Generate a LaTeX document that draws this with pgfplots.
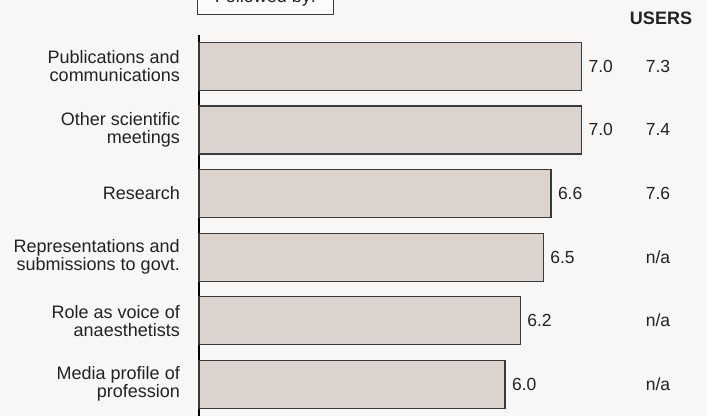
\documentclass[border=0pt]{standalone}
\usepackage{pgfplots}
\usepackage{pgfplotstable}
\pgfplotsset{compat=1.18}
\usepackage{fontspec}
\setmainfont{Liberation Sans}

\definecolor{bg}{HTML}{F8F7F5}
\definecolor{barfill}{HTML}{DAD3CE}
\definecolor{barline}{HTML}{3A3A3A}
\definecolor{ink}{HTML}{222222}

% Mean ratings: members (bars) and users (right-hand column)
\pgfplotstableread{
idx members users
0   7.0     7.3
1   7.0     7.4
2   6.6     7.6
3   6.5     n/a
4   6.2     n/a
5   6.0     n/a
}\ratings

\begin{document}
\begin{tikzpicture}[x=1pt,y=1pt]
\useasboundingbox (0,0) rectangle (707,416);
\fill[bg] (0,0) rectangle (707,416);
\begin{scope}
\clip (0,0) rectangle (707,416);

% header box, partly above the visible area
\draw[barline, line width=1pt, fill=white!60!bg] (197.5,401) rectangle (333.5,445);
\node[anchor=base, text=ink, font=\fontsize{18}{18}\selectfont] at (265.3,413.3) {Followed by:};

% column header
\node[anchor=base, text=ink, font=\bfseries\fontsize{18}{18}\selectfont] at (661,391) {USERS};

\begin{axis}[
  at={(199pt,-0.1pt)}, anchor=south west,
  scale only axis, width=474.3pt, height=381.6pt,
  xmin=2, xmax=8.2, ymin=-0.5, ymax=5.5, y dir=reverse,
  axis x line=none, axis y line*=left,
  y axis line style={draw=black, line width=1.3pt},
  ytick={0,...,5},
  yticklabels={{Publications and\\communications},
               {Other scientific\\meetings},
               {Research},
               {Representations and\\submissions to govt.},
               {Role as voice of\\anaesthetists},
               {Media profile of\\profession}},
  major tick length=0pt,
  yticklabel style={align=right, inner sep=0pt, xshift=-19pt,
                    text=ink, font=\fontsize{18}{18}\selectfont},
  clip=false,
]
\addplot[xbar, bar width=48pt, bar shift=0pt,
  fill=barfill, draw=barline, line width=1.2pt,
  point meta=x,
  nodes near coords={\pgfmathprintnumber[fixed,fixed zerofill,precision=1,assume math mode=true]{\pgfplotspointmeta}},
  every node near coord/.append style={anchor=west, inner sep=0pt, xshift=6.5pt,
                    text=ink, font=\fontsize{17.5}{17.5}\selectfont},
] table[x=members, y=idx] {\ratings};

\addplot[only marks, mark=none,
  point meta=explicit symbolic,
  nodes near coords,
  every node near coord/.append style={anchor=center, inner sep=0pt,
                    text=ink, font=\fontsize{17.5}{17.5}\selectfont},
] table[x expr=8.0, y=idx, meta=users] {\ratings};
\end{axis}
\end{scope}
\end{tikzpicture}
\end{document}
